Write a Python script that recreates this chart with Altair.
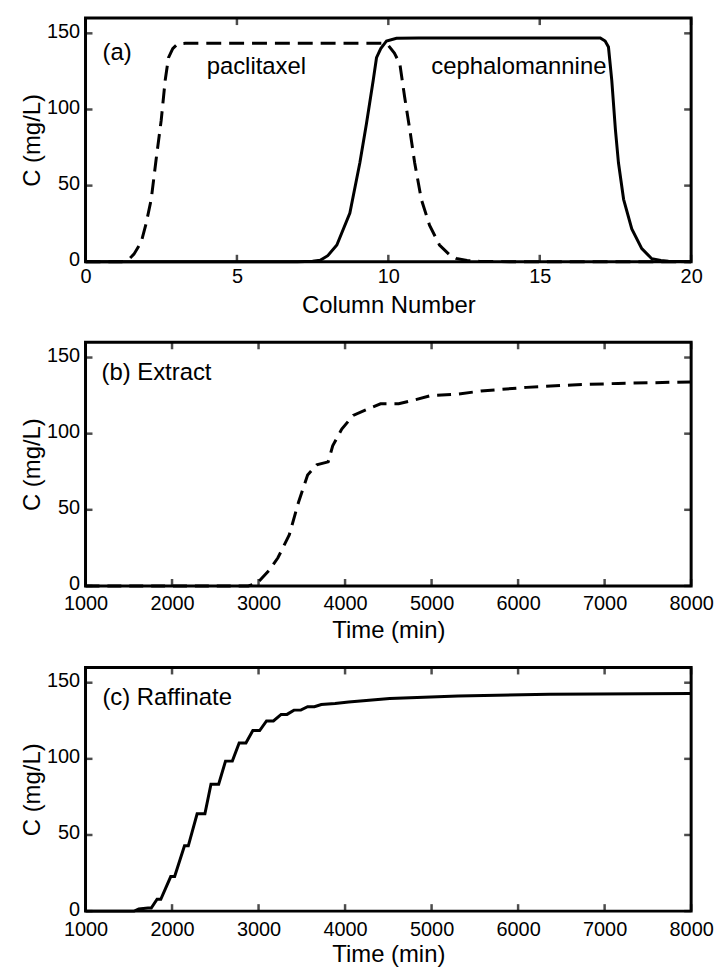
import altair as alt
import pandas as pd

# ---------------- data ----------------
# Panel (a): concentration profile along the columns
col_pac = [0, 1.2, 1.40, 1.60, 1.84, 2.00, 2.17, 2.33, 2.50, 2.63, 2.74, 2.88, 3.04, 3.3, 5.0, 7.0, 9.0,
           9.8, 10.0, 10.2, 10.38, 10.54, 10.71, 10.87, 11.09, 11.36, 11.69, 12.0, 12.24, 12.6, 13.0, 14.0, 20.0]
c_pac = [0, 0, 1, 5, 13, 25, 41, 67, 93, 119, 134, 140, 143, 143.5, 143.5, 143.5, 143.5,
         143.5, 142, 137, 130, 108, 86.6, 65, 41, 24, 11, 5, 2.2, 0.8, 0.3, 0, 0]

col_ceph = [0, 5, 7.0, 7.5, 7.75, 8.0, 8.3, 8.73, 9.06, 9.28, 9.5, 9.61, 9.75, 9.94, 10.27, 11, 14,
            17.0, 17.16, 17.27, 17.38, 17.5, 17.6, 17.77, 18.04, 18.37, 18.7, 19.0, 19.25, 20]
c_ceph = [0, 0, 0, 0.3, 1, 4, 11, 32, 65, 91, 119, 134, 140, 145, 146.8, 147, 147,
          147, 145, 141, 119, 86.6, 65, 41, 21.6, 8.6, 2, 0.8, 0.3, 0]

# Panel (b): extract
t_ext = [1000, 2882, 2987, 3119, 3224, 3356, 3462, 3567, 3672, 3805, 3857, 3962, 4094, 4253,
         4410, 4620, 4779, 4989, 5307, 5571, 6098, 6625, 7153, 8000]
c_ext = [0, 0, 2, 10, 18.5, 33.7, 55, 72.8, 79.5, 81.5, 92, 103, 112, 116,
         119.6, 119.6, 121.8, 125, 126, 128, 130.4, 132, 133, 134]

# Panel (c): raffinate
t_raf = [1000, 1563, 1616, 1722, 1760, 1827, 1870, 1985, 2030, 2144, 2188, 2290, 2380, 2450, 2539,
         2618, 2697, 2776, 2854, 2934, 3013, 3092, 3172, 3261, 3329, 3409, 3488, 3567, 3646, 3725,
         3884, 4041, 4516, 5307, 6362, 8000]
c_raf = [0, 0, 1.4, 2, 2, 7.8, 7.8, 22.7, 22.7, 42.9, 42.9, 63.9, 63.9, 83.3, 83.3,
         98.5, 98.5, 110.4, 110.4, 118.6, 118.6, 124.9, 124.9, 129.2, 129.2, 132, 132, 134.2, 134.2, 135.7,
         136.4, 137.4, 139.6, 141.3, 142.4, 142.9]

# tick values
x_ticks_col = [0, 5, 10, 15, 20]
x_ticks_time = [1000, 2000, 3000, 4000, 5000, 6000, 7000, 8000]
y_ticks = [0, 50, 100, 150]

# annotations
labels_a = ["(a)", "paclitaxel", "cephalomannine"]
labels_a_x = [0.56, 4.0, 11.42]
labels_a_y = [132.5, 123.0, 123.5]
labels_b = ["(b) Extract"]
labels_b_x = [1184]
labels_b_y = [135.5]
labels_c = ["(c) Raffinate"]
labels_c_x = [1195]
labels_c_y = [135.5]

# ---------------- chart ----------------
W = 609
FONT = "Liberation Sans"


def y_axis():
    return alt.Axis(title="C (mg/L)", values=y_ticks, ticks=False, tickSize=0, domain=False, grid=False,
                    labelFont=FONT, labelFontSize=20, labelPadding=6, labelColor="black",
                    labelOverlap=False, labelFlush=False, labelOffset=-2,
                    titleFont=FONT, titleFontSize=24, titleFontWeight="normal", titleColor="black",
                    titleX=-46, titleBaseline="alphabetic", titleAngle=270)


def x_axis(title, vals, lab_size, lab_pad, title_y):
    return alt.Axis(title=title, values=vals, format="d", ticks=False, tickSize=0, domain=False, grid=False,
                    labelFont=FONT, labelFontSize=lab_size, labelPadding=lab_pad, labelColor="black",
                    labelOverlap=False, labelFlush=False,
                    titleFont=FONT, titleFontSize=24, titleFontWeight="normal", titleColor="black",
                    titleY=title_y, titleBaseline="alphabetic")


def frame_ticks(xvals, yvals, xs, ys, H, xax, yax):
    xdf = pd.DataFrame({"v": xvals})
    ydf = pd.DataFrame({"v": yvals})
    bx = alt.Chart(xdf).mark_tick(orient="vertical", size=7, thickness=2.5, color="black")
    by = alt.Chart(ydf).mark_tick(orient="horizontal", size=7, thickness=2.5, color="black")
    return [
        bx.encode(x=alt.X("v:Q", scale=xs, axis=xax), y=alt.value(H - 3.5)),
        bx.encode(x=alt.X("v:Q", scale=xs, axis=xax), y=alt.value(3.5)),
        by.encode(y=alt.Y("v:Q", scale=ys, axis=yax), x=alt.value(3.5)),
        by.encode(y=alt.Y("v:Q", scale=ys, axis=yax), x=alt.value(W - 3.5)),
    ]


def text_layer(labs, xs_vals, ys_vals, xs, ys, xax, yax):
    df = pd.DataFrame({"x": xs_vals, "y": ys_vals, "label": labs})
    return alt.Chart(df).mark_text(align="left", baseline="alphabetic", font=FONT, fontSize=24,
                                   color="black").encode(
        x=alt.X("x:Q", scale=xs, axis=xax),
        y=alt.Y("y:Q", scale=ys, axis=yax),
        text="label:N")


ys = alt.Scale(domain=[0, 160], nice=False, zero=False)
ya = y_axis()

# Panel a
xs_a = alt.Scale(domain=[0, 20], nice=False, zero=False)
HA = 245
xa = x_axis("Column Number", x_ticks_col, 20, 5, 51)
pac = alt.Chart(pd.DataFrame({"x": col_pac, "c": c_pac})).mark_line(
    color="black", strokeWidth=3, strokeDash=[15, 8]).encode(
    x=alt.X("x:Q", scale=xs_a, axis=xa), y=alt.Y("c:Q", scale=ys, axis=ya))
ceph = alt.Chart(pd.DataFrame({"x": col_ceph, "c": c_ceph})).mark_line(
    color="black", strokeWidth=3).encode(
    x=alt.X("x:Q", scale=xs_a, axis=xa), y=alt.Y("c:Q", scale=ys, axis=ya))
panel_a = alt.layer(pac, ceph, text_layer(labels_a, labels_a_x, labels_a_y, xs_a, ys, xa, ya),
                    *frame_ticks(x_ticks_col, y_ticks, xs_a, ys, HA, xa, ya)).properties(width=W, height=HA)

# Panel b
xs_t = alt.Scale(domain=[1000, 8000], nice=False, zero=False)
HB = 245
xb = x_axis("Time (min)", x_ticks_time, 20, 8, 52)
ext = alt.Chart(pd.DataFrame({"x": t_ext, "c": c_ext})).mark_line(
    color="black", strokeWidth=3, strokeDash=[14, 8]).encode(
    x=alt.X("x:Q", scale=xs_t, axis=xb), y=alt.Y("c:Q", scale=ys, axis=ya))
panel_b = alt.layer(ext, text_layer(labels_b, labels_b_x, labels_b_y, xs_t, ys, xb, ya),
                    *frame_ticks(x_ticks_time, y_ticks, xs_t, ys, HB, xb, ya)).properties(width=W, height=HB)

# Panel c
HC = 245
xc = x_axis("Time (min)", x_ticks_time, 20, 9, 51)
raf = alt.Chart(pd.DataFrame({"x": t_raf, "c": c_raf})).mark_line(
    color="black", strokeWidth=3).encode(
    x=alt.X("x:Q", scale=xs_t, axis=xc), y=alt.Y("c:Q", scale=ys, axis=ya))
panel_c = alt.layer(raf, text_layer(labels_c, labels_c_x, labels_c_y, xs_t, ys, xc, ya),
                    *frame_ticks(x_ticks_time, y_ticks, xs_t, ys, HC, xc, ya)).properties(width=W, height=HC)

chart = alt.vconcat(panel_a, panel_b, panel_c, spacing=21).properties(
    padding={"left": 19, "top": 13.5, "right": 0, "bottom": 0},
    background="white",
).configure_view(stroke="black", strokeWidth=3)

chart.save("out.html", embed_options={"renderer": "svg", "actions": False})
